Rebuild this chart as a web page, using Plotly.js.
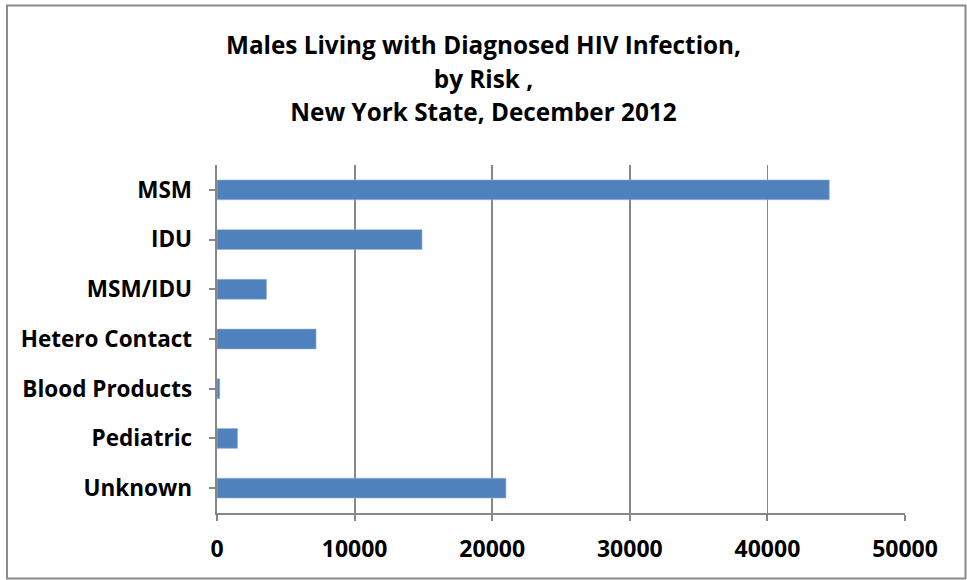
<!DOCTYPE html>
<html>
<head>
<meta charset="utf-8">
<script src="https://cdn.plot.ly/plotly-3.0.1.min.js"></script>
<style>
html,body{margin:0;padding:0;background:#fff;}
#chart{width:967px;height:580px;}
</style>
</head>
<body>
<div id="chart"></div>
<script>
const categories = ["MSM", "IDU", "MSM/IDU", "Hetero Contact", "Blood Products", "Pediatric", "Unknown"];
const values = [44500, 14900, 3600, 7200, 200, 1500, 21000];
const xTicks = [0, 10000, 20000, 30000, 40000, 50000];
const titleLines = ["Males Living with Diagnosed HIV Infection,", "by Risk ,", "New York State, December 2012"];

const FONT = "'Open Sans', Lato, sans-serif";
const L = 217, R = 62, T = 165, B = 67, W = 967, H = 580;
const pw = W - L - R, ph = H - T - B;

const trace = {
  type: "bar",
  orientation: "h",
  y: categories,
  x: values,
  marker: {color: "#4F81BD", line: {color: "#9DB7DC", width: 0.6}},
  hoverinfo: "x+y"
};

const layout = {
  width: W, height: H,
  margin: {l: L, r: R, t: T, b: B},
  paper_bgcolor: "#ffffff",
  plot_bgcolor: "#ffffff",
  showlegend: false,
  bargap: 0.6,
  title: {
    text: titleLines.map(s => "<span style='font-size:24.3px'><b>" + s + "</b></span>").join("<br>"),
    font: {family: FONT, size: 25.8, color: "#000", weight: "bold"},
    x: 0.5, xanchor: "center",
    y: 1 - 54 / H, yanchor: "middle",
    yref: "container"
  },
  xaxis: {
    range: [0, 50000],
    tickvals: xTicks,
    ticktext: xTicks.map(String),
    showgrid: true, gridcolor: "#878787", gridwidth: 1.8,
    showline: true, linecolor: "#878787", linewidth: 2.4,
    ticks: "outside", ticklen: 6, tickcolor: "#878787", tickwidth: 2,
    ticklabelstandoff: 8,
    zeroline: false,
    tickfont: {family: FONT, size: 23, color: "#000", weight: "bold"},
    fixedrange: true
  },
  yaxis: {
    categoryorder: "array",
    categoryarray: categories.slice().reverse(),
    autorange: false,
    range: [-0.5, categories.length - 0.5],
    showgrid: false,
    showline: true, linecolor: "#878787", linewidth: 2.4,
    ticks: "outside", ticklen: 6, tickcolor: "#878787", tickwidth: 2,
    ticklabelstandoff: 12,
    tickfont: {family: FONT, size: 22.5, color: "#000", weight: "bold"},
    fixedrange: true
  },
  shapes: [{
    type: "rect", xref: "paper", yref: "paper",
    x0: (7 - L) / pw, x1: (965.5 - L) / pw,
    y0: 1 - (578.5 - T) / ph, y1: 1 + (T - 5.5) / ph,
    line: {color: "#8A8A8A", width: 2},
    fillcolor: "rgba(0,0,0,0)",
    layer: "below"
  }]
};

Plotly.newPlot("chart", [trace], layout, {displayModeBar: false, staticPlot: true});
</script>
</body>
</html>
